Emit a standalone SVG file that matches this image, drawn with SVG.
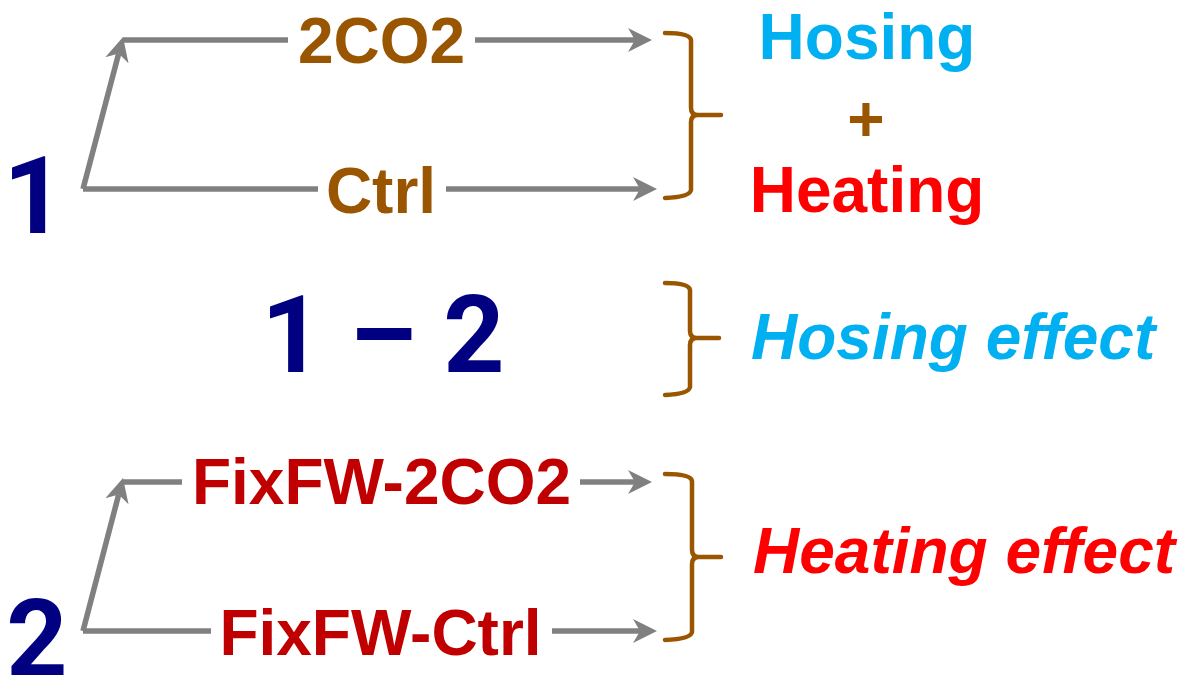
<svg xmlns="http://www.w3.org/2000/svg" width="1182" height="675" viewBox="0 0 1182 675">
<style>
.t{font-family:"Liberation Sans",Arial,sans-serif;font-weight:bold}
.big{font-family:Roboto,"Liberation Sans",sans-serif;font-weight:bold;font-size:107px;fill:#000080;text-anchor:middle}
.lbl{font-size:64px;text-anchor:middle}
.brown{fill:#9A5500}
.dred{fill:#C00000}
.cyan{fill:#00B0F0}
.red{fill:#FF0000}
.it{font-style:italic;font-size:64px}
.ln{fill:none;stroke:#808080;stroke-width:5.5}
.arr{marker-end:url(#ah)}
.br{fill:none;stroke:#9A5500;stroke-width:4.5;stroke-linecap:round;stroke-linejoin:round}
</style>
<defs>
<marker id="ah" markerUnits="userSpaceOnUse" viewBox="0 0 24 24" markerWidth="24" markerHeight="24" refX="7" refY="12" orient="auto">
<path d="M0,0 L24,12 L0,24 L7,12 z" fill="#808080"/>
</marker>
</defs>
<g id="connectors">
<path class="ln" d="M83,189 L318,189"/>
<path class="ln" d="M123,40 L288,40"/>
<path class="ln arr" d="M83,189 L118.7,53.5"/>
<path class="ln arr" d="M475,40 L635,40"/>
<path class="ln arr" d="M446,189 L640,189"/>
<path class="ln" d="M83,631 L211,631"/>
<path class="ln" d="M123,482 L182,482"/>
<path class="ln arr" d="M83,631 L118.7,494.5"/>
<path class="ln arr" d="M580,482 L635,482"/>
<path class="ln arr" d="M552,631 L640,631"/>
</g>
<g id="brackets">
<path class="br" d="M665,33 Q690,33 691,40 L691,108 Q691,115 698,115 L721,115 M698,115 Q691,115 691,122 L691,190 Q690,197 665,198"/>
<path class="br" d="M665,283 Q689,283 690,290 L690,331 Q690,338 697,338 L719,338 M697,338 Q690,338 690,345 L690,387 Q689,394 665,395"/>
<path class="br" d="M665,474 Q691,474 692,481 L692,550 Q692,557 699,557 L721,557 M699,557 Q692,557 692,564 L692,632 Q691,639 665,640"/>
</g>
<g id="node-1"><text class="big" x="34" y="233">1</text></g>
<g id="node-2co2"><text class="t lbl brown" x="381.5" y="63">2CO2</text></g>
<g id="node-ctrl"><text class="t lbl brown" x="381" y="213">Ctrl</text></g>
<g id="node-hosing-heating">
<text class="t lbl cyan" x="867" y="59">Hosing</text>
<text class="t lbl brown" x="866" y="141">+</text>
<text class="t lbl red" x="867" y="212">Heating</text>
</g>
<g id="node-1-2"><text class="big" x="383" y="372">1 – 2</text></g>
<g id="node-hosing-effect"><text class="t it cyan" x="751" y="359">Hosing effect</text></g>
<g id="node-2"><text class="big" x="37" y="676">2</text></g>
<g id="node-fixfw-2co2"><text class="t lbl dred" x="381.5" y="504">FixFW-2CO2</text></g>
<g id="node-fixfw-ctrl"><text class="t lbl dred" x="380.5" y="655">FixFW-Ctrl</text></g>
<g id="node-heating-effect"><text class="t it red" x="753" y="573">Heating effect</text></g>
</svg>
